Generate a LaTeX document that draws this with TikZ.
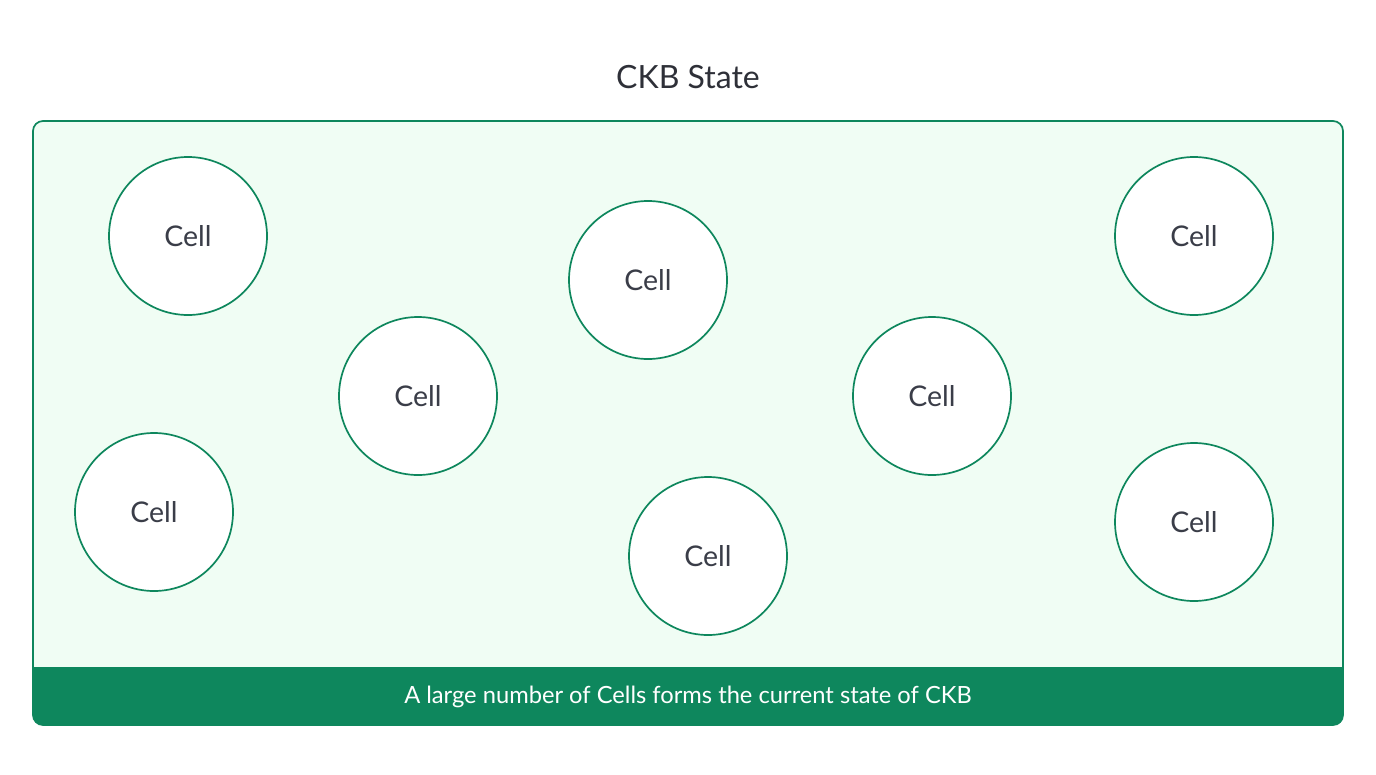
\documentclass[tikz,border=0pt]{standalone}
\usepackage{fontspec}
\setmainfont{Lato}
\definecolor{ckbgreen}{HTML}{0E875D}
\definecolor{ckblight}{HTML}{F0FDF4}
\definecolor{ckbtext}{HTML}{2E3038}
\definecolor{celltext}{HTML}{3A3D48}
\begin{document}
\begin{tikzpicture}[x=1pt,y=-1pt,
  cell/.style={circle, draw=ckbgreen, line width=1.7pt, fill=white, minimum size=158pt, inner sep=0pt,
    font=\fontsize{28.5}{34}\selectfont, text=celltext},
  title/.style={font=\fontsize{32}{38}\selectfont, text=ckbtext},
  caption/.style={font=\fontsize{23.7}{28}\selectfont, text=white}]
\useasboundingbox (0,0) rectangle (1376,774);
\fill[white] (0,0) rectangle (1376,774);
% container
\filldraw[fill=ckblight, draw=ckbgreen, line width=1.7pt, rounded corners=10pt] (33,121) rectangle (1343,725);
\fill[ckbgreen, rounded corners=10pt] (33,667) rectangle (1343,725);
\fill[ckbgreen] (33,667) rectangle (1343,690);
\node[title] (title) at (688,77) {CKB State};
\node[caption] (caption) at (688,697) {A large number of Cells forms the current state of CKB};
% cells
\node[cell] (c1) at (188,236) {Cell};
\node[cell] (c2) at (648,280) {Cell};
\node[cell] (c3) at (1194,236) {Cell};
\node[cell] (c4) at (418,396) {Cell};
\node[cell] (c5) at (932,396) {Cell};
\node[cell] (c6) at (154,512) {Cell};
\node[cell] (c7) at (708,556) {Cell};
\node[cell] (c8) at (1194,522) {Cell};
\end{tikzpicture}
\end{document}
